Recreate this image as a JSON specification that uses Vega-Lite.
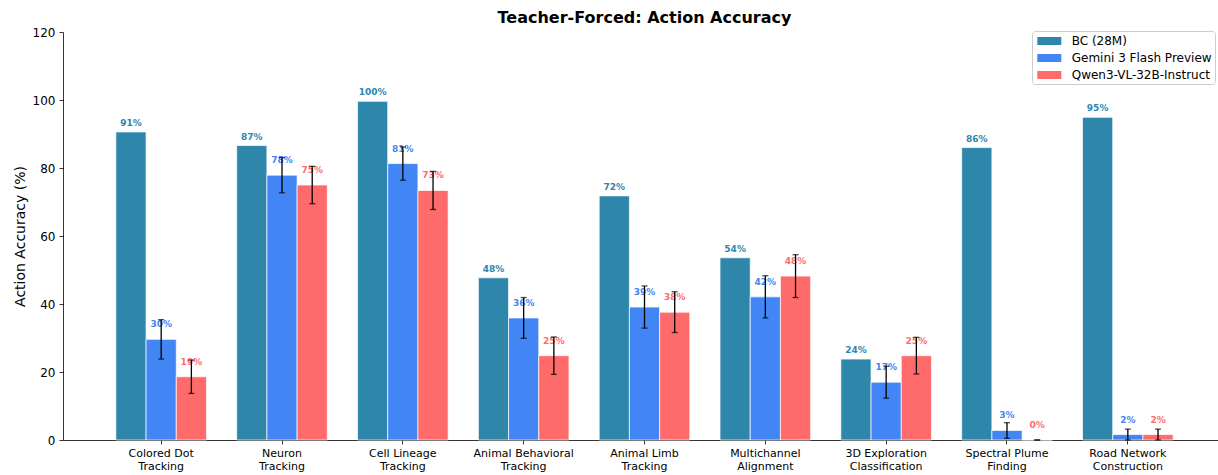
{
  "$schema": "https://vega.github.io/schema/vega-lite/v6.json",
  "width": 1154,
  "height": 408,
  "autosize": {"type": "none"},
  "padding": {"left": 63, "top": 32, "right": 1, "bottom": 35},
  "background": "white",
  "title": {
    "text": "Teacher-Forced: Action Accuracy",
    "font": "DejaVu Sans",
    "fontSize": 16,
    "fontWeight": "bold",
    "color": "#000000",
    "anchor": "middle",
    "frame": "group",
    "baseline": "alphabetic",
    "offset": 7.5,
    "dy": 20.5,
    "dx": 4.5
  },
  "config": {
    "view": {"stroke": null},
    "font": "DejaVu Sans",
    "axis": {"labelFont": "DejaVu Sans", "titleFont": "DejaVu Sans", "labelColor": "#000000", "titleColor": "#000000", "domainColor": "#000000", "tickColor": "#000000", "domainWidth": 0.8, "tickWidth": 0.8, "grid": false}
  },
  "data": {
    "values": [
      {"task": "Colored Dot\nTracking", "model": "BC (28M)", "acc": 90.6, "err": null},
      {"task": "Colored Dot\nTracking", "model": "Gemini 3 Flash Preview", "acc": 29.6, "err": 5.8},
      {"task": "Colored Dot\nTracking", "model": "Qwen3-VL-32B-Instruct", "acc": 18.6, "err": 4.9},
      {"task": "Neuron\nTracking", "model": "BC (28M)", "acc": 86.6, "err": null},
      {"task": "Neuron\nTracking", "model": "Gemini 3 Flash Preview", "acc": 77.9, "err": 5.2},
      {"task": "Neuron\nTracking", "model": "Qwen3-VL-32B-Instruct", "acc": 75.0, "err": 5.5},
      {"task": "Cell Lineage\nTracking", "model": "BC (28M)", "acc": 99.6, "err": null},
      {"task": "Cell Lineage\nTracking", "model": "Gemini 3 Flash Preview", "acc": 81.3, "err": 4.9},
      {"task": "Cell Lineage\nTracking", "model": "Qwen3-VL-32B-Instruct", "acc": 73.4, "err": 5.6},
      {"task": "Animal Behavioral\nTracking", "model": "BC (28M)", "acc": 47.7, "err": null},
      {"task": "Animal Behavioral\nTracking", "model": "Gemini 3 Flash Preview", "acc": 35.9, "err": 6.0},
      {"task": "Animal Behavioral\nTracking", "model": "Qwen3-VL-32B-Instruct", "acc": 24.8, "err": 5.5},
      {"task": "Animal Limb\nTracking", "model": "BC (28M)", "acc": 71.8, "err": null},
      {"task": "Animal Limb\nTracking", "model": "Gemini 3 Flash Preview", "acc": 39.1, "err": 6.2},
      {"task": "Animal Limb\nTracking", "model": "Qwen3-VL-32B-Instruct", "acc": 37.6, "err": 6.0},
      {"task": "Multichannel\nAlignment", "model": "BC (28M)", "acc": 53.6, "err": null},
      {"task": "Multichannel\nAlignment", "model": "Gemini 3 Flash Preview", "acc": 42.1, "err": 6.2},
      {"task": "Multichannel\nAlignment", "model": "Qwen3-VL-32B-Instruct", "acc": 48.2, "err": 6.3},
      {"task": "3D Exploration\nClassification", "model": "BC (28M)", "acc": 23.8, "err": null},
      {"task": "3D Exploration\nClassification", "model": "Gemini 3 Flash Preview", "acc": 17.0, "err": 4.7},
      {"task": "3D Exploration\nClassification", "model": "Qwen3-VL-32B-Instruct", "acc": 24.8, "err": 5.4},
      {"task": "Spectral Plume\nFinding", "model": "BC (28M)", "acc": 86.0, "err": null},
      {"task": "Spectral Plume\nFinding", "model": "Gemini 3 Flash Preview", "acc": 2.8, "err": 2.3},
      {"task": "Spectral Plume\nFinding", "model": "Qwen3-VL-32B-Instruct", "acc": 0.0, "err": 0.0},
      {"task": "Road Network\nConstruction", "model": "BC (28M)", "acc": 94.9, "err": null},
      {"task": "Road Network\nConstruction", "model": "Gemini 3 Flash Preview", "acc": 1.6, "err": 1.6},
      {"task": "Road Network\nConstruction", "model": "Qwen3-VL-32B-Instruct", "acc": 1.6, "err": 1.6}
    ]
  },
  "transform": [
    {"calculate": "format(datum.acc, '.0f') + '%'", "as": "label"},
    {"calculate": "datum.err == null ? null : datum.acc - datum.err", "as": "lo"},
    {"calculate": "datum.err == null ? null : datum.acc + datum.err", "as": "hi"}
  ],
  "encoding": {
    "x": {
      "field": "task",
      "type": "nominal",
      "sort": null,
      "title": null,
      "scale": {"range": [0, 1163], "paddingInner": 0.25, "paddingOuter": 0.4375},
      "axis": {
        "labelAngle": 0,
        "labelFontSize": 11,
        "labelLineHeight": 13.5,
        "labelExpr": "split(datum.label, '\\n')",
        "labelBaseline": "top",
        "tickSize": 4,
        "labelPadding": 3,
        "labelLimit": 200
      }
    },
    "xOffset": {
      "field": "model",
      "type": "nominal",
      "sort": ["BC (28M)", "Gemini 3 Flash Preview", "Qwen3-VL-32B-Instruct"],
      "scale": {"paddingInner": 0, "paddingOuter": 0}
    }
  },
  "layer": [
    {
      "mark": {"type": "bar", "stroke": "white", "strokeWidth": 0.7},
      "encoding": {
        "y": {
          "field": "acc",
          "type": "quantitative",
          "scale": {"domain": [0, 120], "nice": false},
          "axis": {"values": [0, 20, 40, 60, 80, 100, 120], "labelFontSize": 12, "tickSize": 4, "labelPadding": 4, "titleFontSize": 14, "titleFontWeight": "normal", "titlePadding": 5},
          "title": "Action Accuracy (%)"
        },
        "color": {
          "field": "model",
          "type": "nominal",
          "sort": ["BC (28M)", "Gemini 3 Flash Preview", "Qwen3-VL-32B-Instruct"],
          "scale": {"domain": ["BC (28M)", "Gemini 3 Flash Preview", "Qwen3-VL-32B-Instruct"], "range": ["#2E86AB", "#4285F4", "#FF6B6B"]},
          "legend": {
            "title": null,
            "orient": "none",
            "legendX": 969,
            "legendY": -1,
            "padding": 3,
            "strokeColor": "#cccccc",
            "fillColor": "white",
            "cornerRadius": 3,
            "symbolType": "M-0.67,-0.57H2.76V0.57H-0.67Z",
            "symbolSize": 196,
            "symbolStrokeWidth": 0,
            "labelFontSize": 12,
            "labelFont": "DejaVu Sans",
            "labelColor": "#000000",
            "labelOffset": 22.7,
            "rowPadding": 4,
            "labelLimit": 300
          }
        }
      }
    },
    {
      "transform": [{"filter": "datum.model == 'BC (28M)'"}],
      "mark": {"type": "text", "fontSize": 9, "fontWeight": "bold", "baseline": "middle", "dy": -9},
      "encoding": {
        "y": {"field": "acc", "type": "quantitative"},
        "text": {"field": "label"},
        "fill": {"field": "model", "type": "nominal", "scale": {"domain": ["BC (28M)", "Gemini 3 Flash Preview", "Qwen3-VL-32B-Instruct"], "range": ["#2E86AB", "#4285F4", "#FF6B6B"]}, "legend": null}
      }
    },
    {
      "transform": [{"filter": "datum.model != 'BC (28M)'"}],
      "mark": {"type": "text", "fontSize": 9, "fontWeight": "bold", "baseline": "middle", "dy": -15},
      "encoding": {
        "y": {"field": "acc", "type": "quantitative"},
        "text": {"field": "label"},
        "fill": {"field": "model", "type": "nominal", "scale": {"domain": ["BC (28M)", "Gemini 3 Flash Preview", "Qwen3-VL-32B-Instruct"], "range": ["#2E86AB", "#4285F4", "#FF6B6B"]}, "legend": null}
      }
    },
    {
      "transform": [{"filter": "datum.err != null"}],
      "mark": {"type": "rule", "color": "#000000", "strokeWidth": 1.3},
      "encoding": {
        "y": {"field": "lo", "type": "quantitative"},
        "y2": {"field": "hi"}
      }
    },
    {
      "transform": [{"filter": "datum.err != null"}],
      "mark": {"type": "tick", "color": "#000000", "size": 6, "thickness": 1.3, "orient": "horizontal"},
      "encoding": {
        "y": {"field": "lo", "type": "quantitative"}
      }
    },
    {
      "transform": [{"filter": "datum.err != null"}],
      "mark": {"type": "tick", "color": "#000000", "size": 6, "thickness": 1.3, "orient": "horizontal"},
      "encoding": {
        "y": {"field": "hi", "type": "quantitative"}
      }
    }
  ]
}
